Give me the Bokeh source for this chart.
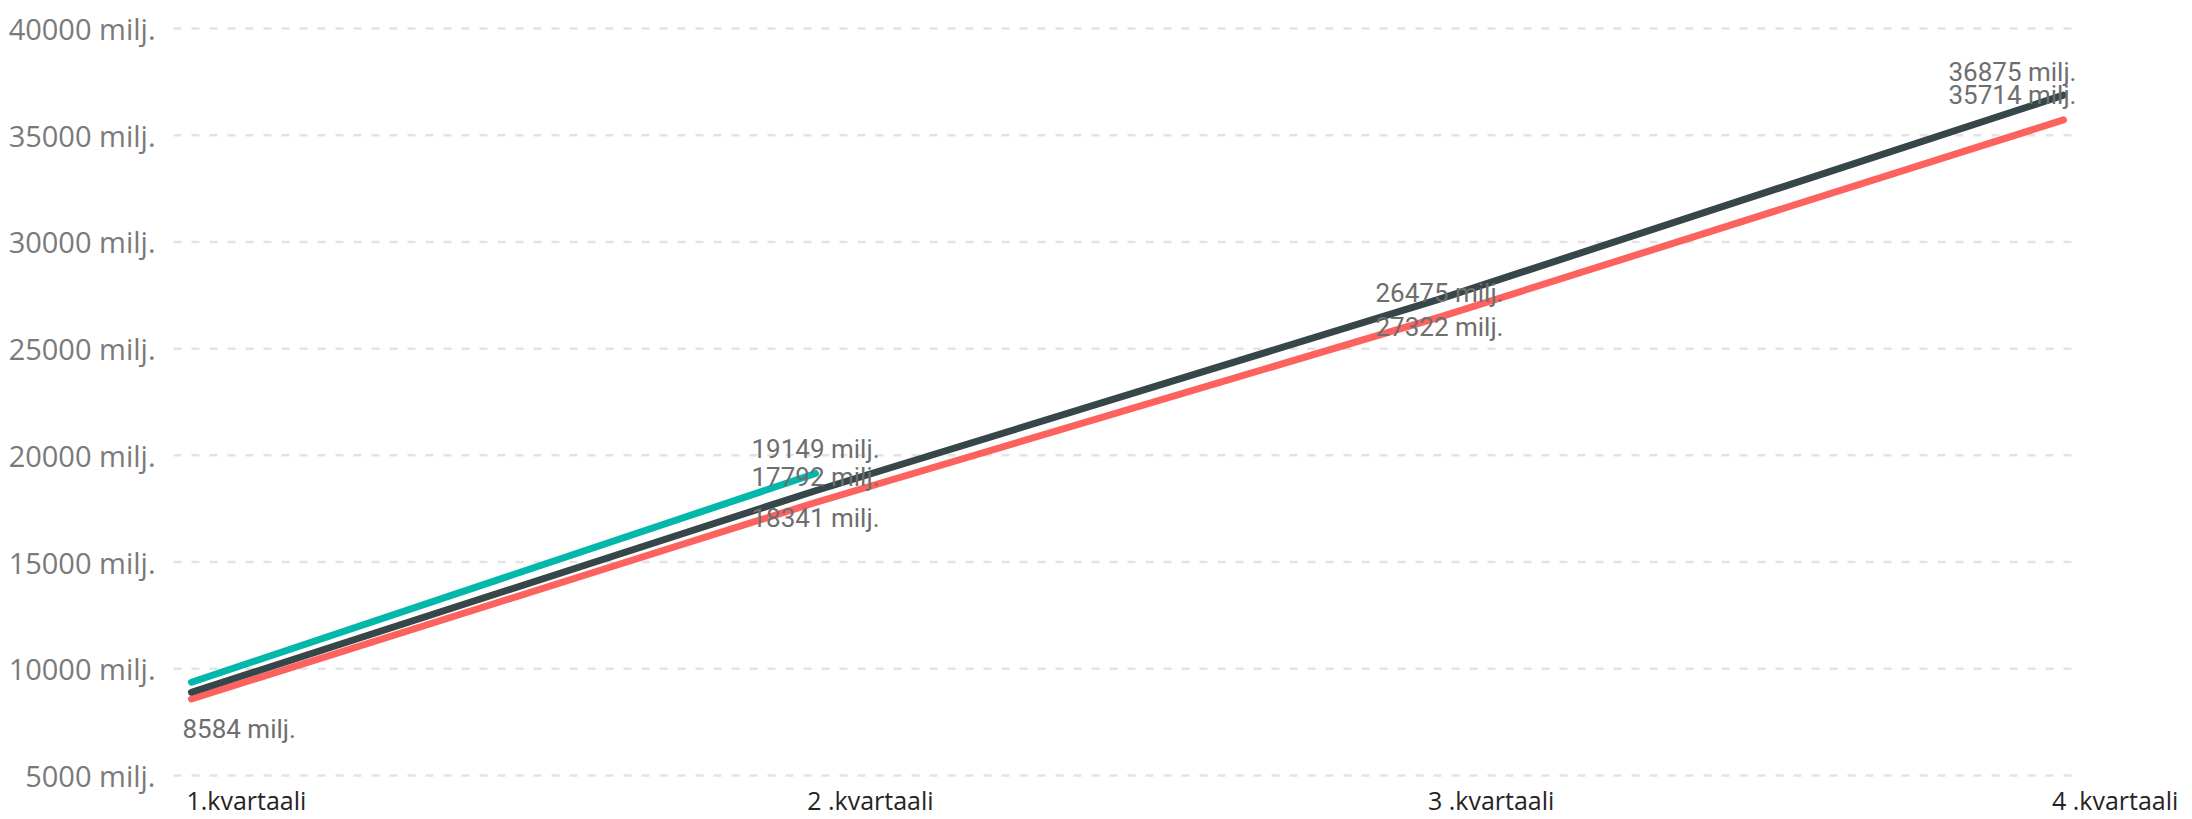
from bokeh.plotting import figure
from bokeh.models import ColumnDataSource, Range1d, FixedTicker, PrintfTickFormatter
from bokeh.embed import file_html
from bokeh.resources import INLINE
from bokeh.core.properties import value

# ---- data ----
quarters = ["1.kvartaali", "2 .kvartaali", "3  .kvartaali", "4  .kvartaali"]
teal_vals = [9370, 19149]
dark_vals = [8900, 18341, 27322, 36875]
red_vals = [8584, 17792, 26475, 35714]
y_ticks = [5000, 10000, 15000, 20000, 25000, 30000, 35000, 40000]

# label placement (pixel offsets, style only); None = no label
teal_lab = [None, (0, -25, "center")]
dark_lab = [None, (0, 27, "center"), (0, 28, "center"), (-51, -23, "center")]
red_lab = [(-9, 30, "left"), (0, -25, "center"), (0, -24, "center"), (-51, -25, "center")]

TEAL = "#01B8AA"
DARK = "#374649"
RED = "#FD625E"

X0, X1 = -0.0288, 3.2068      # plotting range (frame reaches page edge)
GRID_X0, GRID_X1 = -0.0288, 3.0272  # extent of the dashed grid lines
Y0, Y1 = 4907, 40374
LABEL_SHIFT = 0.088           # category labels start at the point, not centred

p = figure(width=2192, height=819, output_backend="svg", toolbar_location=None,
           x_range=Range1d(X0, X1), y_range=Range1d(Y0, Y1),
           min_border_left=173, min_border_right=0, min_border_top=20, min_border_bottom=40)
p.outline_line_color = None
p.background_fill_color = "white"
p.border_fill_color = "white"

p.xgrid.grid_line_color = None
p.ygrid.grid_line_color = None

# dashed horizontal grid lines over the plotted extent
p.segment(x0=[GRID_X0] * len(y_ticks), x1=[GRID_X1] * len(y_ticks), y0=y_ticks, y1=y_ticks,
          line_color="#e3e3e3", line_width=2.5, line_dash="8 10")

p.yaxis.ticker = FixedTicker(ticks=y_ticks)
p.yaxis.formatter = PrintfTickFormatter(format="%d milj.")
p.yaxis.axis_line_color = None
p.yaxis.major_tick_line_color = None
p.yaxis.minor_tick_line_color = None
p.yaxis.major_tick_out = 0
p.yaxis.major_tick_in = 0
p.yaxis.minor_tick_out = 0
p.yaxis.major_label_text_font = "Open Sans"
p.yaxis.major_label_text_font_size = "29px"
p.yaxis.major_label_text_color = "#7a7a7a"
p.yaxis.major_label_standoff = 18

xt = [i + LABEL_SHIFT for i in range(len(quarters))]
p.xaxis.ticker = FixedTicker(ticks=xt)
p.xaxis.major_label_overrides = {t: q for t, q in zip(xt, quarters)}
p.xaxis.axis_line_color = None
p.xaxis.major_tick_line_color = None
p.xaxis.minor_tick_line_color = None
p.xaxis.major_tick_out = 0
p.xaxis.major_tick_in = 0
p.xaxis.minor_tick_out = 0
p.xaxis.major_label_text_font = "Open Sans"
p.xaxis.major_label_text_font_size = "25px"
p.xaxis.major_label_text_color = "#252423"
p.xaxis.major_label_standoff = 5

series = [(red_vals, RED, red_lab), (dark_vals, DARK, dark_lab), (teal_vals, TEAL, teal_lab)]
for vals, col, _ in series:
    xs = list(range(len(vals)))
    p.line(xs, vals, line_color=col, line_width=7, line_cap="round", line_join="round")

for vals, col, labs in series:
    for align in ("left", "center"):
        xs, ys, txt, xo, yo = [], [], [], [], []
        for i, v in enumerate(vals):
            lab = labs[i]
            if lab is None or lab[2] != align:
                continue
            xs.append(i); ys.append(v); txt.append(f"{v} milj.")
            xo.append(lab[0]); yo.append(lab[1])
        if not xs:
            continue
        src = ColumnDataSource(dict(x=xs, y=ys, t=txt, xo=xo, yo=yo))
        p.text(x="x", y="y", text="t", x_offset="xo", y_offset="yo", source=src,
               text_font=value("Roboto"), text_font_size="26px", text_color="#6e6e6e",
               text_align=align, text_baseline="middle")

open("out.html", "w").write(file_html(p, INLINE))
